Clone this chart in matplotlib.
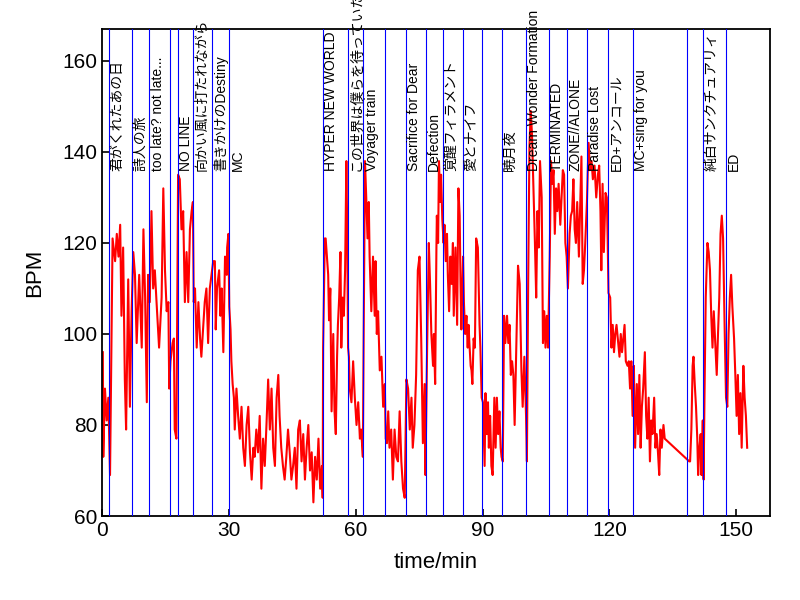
import numpy as np
import matplotlib
matplotlib.use("Agg")
import matplotlib.pyplot as plt

plt.rcParams['font.family'] = ['Liberation Sans', 'Noto Sans CJK JP', 'DejaVu Sans']

# sample times (min) and heart rate (BPM)
time_min = [
    0.2, 0.3, 0.7, 1.1, 1.5, 1.9, 2.5, 3.1, 3.5, 3.9,
    4.3, 4.6, 5.0, 5.4, 5.7, 6.2, 6.6, 7.0, 7.4, 7.8,
    8.2, 8.8, 9.4, 9.8, 10.2, 10.6, 10.9, 11.3, 11.7, 12.1,
    12.5, 12.9, 13.5, 14.1, 14.5, 14.9, 15.3, 15.7, 15.9, 16.2,
    16.7, 17.0, 17.2, 17.6, 18.0, 18.4, 18.8, 19.2, 19.6, 20.0,
    20.4, 20.8, 21.2, 21.5, 21.7, 22.0, 22.4, 22.8, 23.2, 23.5,
    23.9, 24.3, 24.7, 25.1, 25.5, 25.9, 26.3, 26.7, 26.9, 27.2,
    27.7, 28.0, 28.3, 28.7, 29.1, 29.5, 29.6, 29.9, 30.1, 30.4,
    30.6, 30.9, 31.2, 31.4, 31.8, 32.2, 32.6, 33.0, 33.4, 33.8,
    34.2, 34.6, 35.0, 35.4, 35.8, 36.1, 36.5, 36.9, 37.3, 37.7,
    38.1, 38.5, 38.9, 39.3, 39.7, 40.1, 40.5, 40.9, 41.3, 41.7,
    42.0, 42.4, 42.8, 43.2, 43.6, 44.0, 44.4, 44.8, 45.2, 45.6,
    46.0, 46.4, 46.8, 47.2, 47.6, 48.0, 48.4, 48.8, 49.2, 49.6,
    50.0, 50.4, 50.8, 51.2, 51.6, 52.0, 52.2, 52.3, 52.7, 52.9,
    53.5, 53.7, 54.0, 54.3, 54.7, 55.0, 55.3, 55.6, 55.8, 56.1,
    56.4, 56.6, 56.9, 57.2, 57.5, 57.8, 58.0, 58.2, 58.4, 58.6,
    59.0, 59.4, 59.8, 60.2, 60.6, 61.0, 61.3, 61.7, 61.9, 62.2,
    62.5, 62.8, 63.1, 63.3, 63.7, 64.1, 64.5, 64.7, 65.0, 65.3,
    65.7, 66.1, 66.5, 66.9, 67.1, 67.4, 67.7, 68.0, 68.4, 68.8,
    69.2, 69.6, 70.0, 70.4, 70.8, 71.2, 71.6, 72.0, 72.4, 72.8,
    73.2, 73.5, 73.9, 74.3, 74.7, 75.1, 75.5, 75.9, 76.3, 76.5,
    76.9, 77.3, 77.6, 77.9, 78.3, 78.5, 78.8, 79.1, 79.2, 79.5,
    79.7, 80.0, 80.2, 80.5, 80.8, 81.0, 81.3, 81.6, 81.8, 82.1,
    82.4, 82.7, 83.0, 83.2, 83.6, 83.8, 84.0, 84.3, 84.6, 84.8,
    85.0, 85.4, 85.6, 85.9, 86.2, 86.5, 86.7, 86.9, 87.2, 87.4,
    87.6, 87.9, 88.2, 88.5, 88.9, 89.3, 89.5, 89.8, 90.1, 90.5,
    90.7, 91.0, 91.3, 91.5, 91.8, 92.1, 92.4, 92.8, 93.1, 93.4,
    93.7, 94.0, 94.3, 94.5, 94.8, 95.1, 95.4, 95.8, 96.1, 96.4,
    96.7, 97.0, 97.3, 97.6, 98.0, 98.4, 98.8, 99.2, 99.5, 99.9,
    100.3, 100.5, 100.8, 101.1, 101.4, 101.7, 102.1, 102.4, 102.7, 103.0,
    103.3, 103.6, 104.0, 104.3, 104.6, 104.9, 105.2, 105.5, 105.9, 106.2,
    106.5, 106.8, 107.1, 107.4, 107.7, 108.0, 108.4, 108.7, 109.0, 109.3,
    109.6, 109.9, 110.2, 110.6, 110.9, 111.2, 111.5, 111.8, 112.1, 112.4,
    112.8, 113.1, 113.4, 113.7, 114.0, 114.3, 114.7, 114.9, 115.1, 115.4,
    115.8, 116.1, 116.5, 116.9, 117.3, 117.6, 117.9, 118.1, 118.4, 118.7,
    119.1, 119.4, 119.6, 119.8, 120.2, 120.5, 120.8, 121.1, 121.4, 121.7,
    122.1, 122.4, 122.7, 123.0, 123.3, 123.6, 123.9, 124.3, 124.6, 124.9,
    125.2, 125.5, 125.8, 126.1, 126.5, 126.8, 127.1, 127.4, 127.7, 128.0,
    128.4, 128.7, 129.0, 129.3, 129.6, 129.9, 130.2, 130.6, 130.9, 131.2,
    131.5, 131.8, 132.1, 132.4, 132.8, 133.1, 138.9, 139.1, 139.4, 139.7,
    139.9, 140.2, 140.5, 140.8, 141.0, 141.3, 141.6, 141.8, 142.1, 142.3,
    142.5, 142.8, 143.2, 143.5, 143.8, 144.1, 144.4, 144.7, 145.0, 145.4,
    145.7, 146.0, 146.3, 146.6, 146.9, 147.3, 147.6, 147.9, 148.2, 148.5,
    148.8, 149.1, 149.5, 149.8, 150.1, 150.4, 150.7, 151.0, 151.3, 151.7,
    152.0, 152.3, 152.6,
]
bpm = [
    96, 73, 88, 81, 86, 69, 121, 116, 122, 117,
    124, 104, 119, 90, 79, 112, 84, 105, 118, 113,
    98, 113, 97, 123, 108, 85, 113, 107, 127, 110,
    114, 107, 97, 108, 132, 114, 105, 107, 88, 94,
    98, 99, 79, 77, 135, 134, 123, 127, 107, 118,
    107, 123, 127, 129, 107, 110, 97, 107, 99, 95,
    101, 107, 110, 98, 110, 113, 116, 116, 101, 110,
    114, 104, 110, 96, 117, 113, 119, 122, 106, 101,
    94, 89, 86, 79, 88, 82, 77, 84, 75, 71,
    80, 84, 74, 68, 75, 73, 79, 74, 82, 66,
    77, 71, 80, 90, 79, 88, 75, 71, 86, 91,
    82, 75, 71, 68, 73, 79, 74, 68, 71, 75,
    66, 79, 81, 72, 78, 68, 75, 80, 70, 74,
    63, 73, 68, 77, 66, 71, 64, 97, 121, 121,
    113, 103, 110, 83, 100, 83, 78, 95, 102, 108,
    118, 97, 108, 104, 114, 138, 123, 97, 95, 88,
    85, 94, 86, 80, 85, 77, 79, 73, 101, 138,
    130, 121, 129, 117, 105, 117, 104, 116, 100, 105,
    92, 95, 84, 89, 77, 76, 83, 75, 79, 68,
    79, 73, 72, 83, 72, 66, 64, 90, 88, 79,
    86, 75, 80, 91, 114, 117, 99, 76, 89, 69,
    97, 120, 111, 100, 93, 100, 89, 119, 126, 120,
    138, 129, 135, 125, 120, 124, 116, 122, 113, 105,
    117, 111, 120, 104, 119, 111, 102, 132, 126, 111,
    101, 117, 107, 100, 104, 97, 102, 98, 93, 92,
    89, 99, 97, 121, 119, 102, 97, 86, 85, 71,
    87, 78, 85, 75, 82, 71, 69, 86, 75, 86,
    78, 83, 75, 73, 72, 104, 98, 104, 98, 102,
    91, 94, 91, 80, 97, 115, 111, 92, 84, 95,
    82, 72, 111, 141, 149, 144, 130, 120, 108, 127,
    119, 138, 130, 98, 105, 97, 104, 97, 117, 138,
    133, 136, 122, 132, 127, 133, 124, 130, 136, 135,
    120, 117, 110, 122, 126, 127, 134, 123, 120, 129,
    117, 128, 139, 111, 114, 120, 129, 136, 142, 136,
    138, 134, 137, 130, 135, 137, 127, 114, 133, 118,
    131, 130, 121, 109, 108, 97, 102, 96, 100, 102,
    98, 95, 100, 96, 99, 102, 94, 93, 94, 88,
    94, 82, 93, 75, 89, 78, 91, 75, 84, 88,
    96, 82, 77, 86, 72, 81, 78, 86, 75, 78,
    74, 69, 79, 75, 80, 77, 72, 72, 79, 93,
    95, 89, 84, 77, 69, 75, 78, 69, 81, 68,
    86, 108, 120, 118, 114, 104, 97, 105, 99, 91,
    100, 108, 122, 126, 121, 100, 86, 84, 100, 108,
    113, 106, 99, 91, 82, 91, 78, 87, 75, 93,
    86, 82, 75,
]

# song boundaries (min) and labels
song_starts = [1.7, 7.1, 11.2, 16.2, 17.9, 21.6, 26.1, 30.1, 52.3, 58.3, 61.8,
               66.9, 71.8, 76.6, 80.6, 85.4, 89.9, 94.5, 100.3, 105.7, 110.0,
               114.7, 119.6, 125.5, 138.3, 142.2, 147.6]
song_labels = ["君がくれたあの日", "詩人の旅", "too late? not late...", "", "NO LINE",
               "向かい風に打たれながら", "書きかけのDestiny", "MC", "HYPER NEW WORLD",
               "この世界は僕らを待っていた", "Voyager train", "", "Sacrifice for Dear",
               "Defection", "覚醒フィラメント", "愛とナイフ", "", "暁月夜",
               "Dream Wonder Formation", "TERMINATED", "ZONE//ALONE", "Paradise Lost",
               "ED+アンコール", "MC+sing for you", "", "純白サンクチュアリィ", "ED"]

fig = plt.figure(figsize=(8, 6), dpi=100)
ax = fig.add_axes([0.1275, 0.14, 0.835, 0.8115])

ax.plot(time_min, bpm, color='red', lw=1.5, zorder=2)
for xs, lab in zip(song_starts, song_labels):
    ax.axvline(xs, color='blue', lw=0.8, zorder=3)
    if lab:
        ax.text(xs + 0.3, 135.8, lab, rotation=90, ha='left', va='bottom',
                fontsize=10, zorder=4)

ax.set_xlim(0, 158)
ax.set_ylim(60, 167)
ax.set_xticks([0, 30, 60, 90, 120, 150])
ax.set_yticks([60, 80, 100, 120, 140, 160])
ax.tick_params(direction='in', labelsize=15, length=5, width=1.2)
ax.set_xlabel('time/min', fontsize=16, labelpad=9)
ax.set_ylabel('BPM', fontsize=16, labelpad=12)
for s in ax.spines.values():
    s.set_linewidth(1.3)

fig.savefig('out.png', dpi=100)
